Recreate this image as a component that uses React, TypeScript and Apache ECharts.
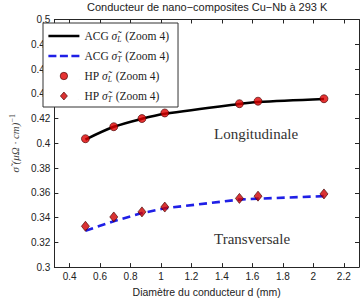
import React, { useEffect, useRef } from "react";
import * as echarts from "echarts";

const xTicks = [0.4, 0.6, 0.8, 1.0, 1.2, 1.4, 1.6, 1.8, 2.0, 2.2];
const diam = [0.504, 0.69, 0.875, 1.025, 1.515, 1.637, 2.07];
const acgL = [0.403, 0.4133, 0.4198, 0.4238, 0.4318, 0.4333, 0.4358];
const acgT = [0.3294, 0.3371, 0.3436, 0.3475, 0.3545, 0.3553, 0.3573];
const hpL = [0.4037, 0.4134, 0.42, 0.4245, 0.432, 0.434, 0.436];
const hpT = [0.333, 0.3405, 0.3446, 0.3485, 0.3555, 0.3573, 0.3591];

const pairs = (xs: number[], ys: number[]) => xs.map((x, i) => [x, ys[i]]);

const legendText: Record<string, string> = {
  acgL: "ACG {s|σ̃}{sub|L} (Zoom 4)",
  acgT: "ACG {s|σ̃}{sub|T} (Zoom 4)",
  hpL: "HP {s|σ̃}{sub|L} (Zoom 4)",
  hpT: "HP {s|σ̃}{sub|T} (Zoom 4)",
};

// legend glyphs (31 x 8 box)
const solidIcon = "path://M0,2.7 L31,2.7 L31,5.3 L0,5.3 Z M0,0 L0.01,0 L0.01,0.01 Z M0,8 L0.01,8 L0.01,7.99 Z";
const dashIcon =
  "path://M0,2.7 L8,2.7 L8,5.3 L0,5.3 Z M11.5,2.7 L19.5,2.7 L19.5,5.3 L11.5,5.3 Z M23,2.7 L31,2.7 L31,5.3 L23,5.3 Z M0,0 L0.01,0 L0.01,0.01 Z M0,8 L0.01,8 L0.01,7.99 Z";
const circleIcon =
  "path://M15.5,0.3 A3.7,3.7 0 1,1 15.5,7.7 A3.7,3.7 0 1,1 15.5,0.3 Z M0,0 L0.01,0 L0.01,0.01 Z M31,8 L30.99,8 L30.99,7.99 Z";
const diamondIcon =
  "path://M15.5,-0.3 L19.3,4 L15.5,8.3 L11.7,4 Z M0,0 L0.01,0 L0.01,0.01 Z M31,8 L30.99,8 L30.99,7.99 Z";

export default function App() {
  const ref = useRef<HTMLDivElement>(null);
  useEffect(() => {
    if (!ref.current) return;
    const chart = echarts.init(ref.current, undefined, { renderer: "svg" });
    const axisCol = "#262626";
    const sans = "Liberation Sans";
    const serif = "Liberation Serif";
    chart.setOption({
      animation: false,
      backgroundColor: "#ffffff",
      title: {
        text: "Conducteur de nano\u2212composites Cu\u2212Nb à 293 K",
        left: 87,
        top: 1,
        padding: 0,
        textStyle: { fontFamily: sans, fontSize: 11, fontWeight: "normal", color: "#222" },
      },
      grid: { left: 37.5, right: 2, top: 19.5, bottom: 26, containLabel: false },
      legend: {
        orient: "vertical",
        left: 43,
        top: 23,
        padding: [6, 9, 4, 5],
        itemGap: 6,
        itemWidth: 31,
        itemHeight: 8,
        borderColor: "#333",
        borderWidth: 1,
        backgroundColor: "#fff",
        data: [
          { name: "acgL", icon: solidIcon, itemStyle: { color: "#000", borderWidth: 0 } },
          { name: "acgT", icon: dashIcon, itemStyle: { color: "#1f1fe6", borderWidth: 0 } },
          { name: "hpL", icon: circleIcon, itemStyle: { color: "#e00000", borderColor: "#400000", borderWidth: 0.8 } },
          { name: "hpT", icon: diamondIcon, itemStyle: { color: "#d00000", borderColor: "#400000", borderWidth: 0.8 } },
        ],
        formatter: (n: string) => legendText[n],
        textStyle: {
          fontFamily: serif,
          fontSize: 11.5,
          color: "#222",
          lineHeight: 14,
          rich: {
            s: { fontFamily: serif, fontSize: 11.5, fontStyle: "italic", lineHeight: 14 },
            sub: { fontFamily: serif, fontSize: 7.5, fontStyle: "italic", lineHeight: 14, verticalAlign: "bottom", padding: [4, 1, 0, 0] },
          },
        },
      },
      xAxis: [
        {
          type: "value",
          min: 0.3,
          max: 2.3,
          position: "bottom",
          name: "Diamètre du conducteur d (mm)",
          nameLocation: "middle",
          nameGap: 15,
          nameTextStyle: { fontFamily: sans, fontSize: 10.5, color: "#222" },
          axisLine: { show: true, lineStyle: { color: axisCol, width: 1 } },
          axisTick: { show: true, inside: true, length: 4, customValues: xTicks, lineStyle: { color: axisCol } },
          axisLabel: { customValues: xTicks, margin: 4, fontFamily: sans, fontSize: 10, color: "#222", formatter: (v: number) => String(Math.round(v * 10) / 10) },
          splitLine: { show: false },
        },
        {
          type: "value",
          min: 0.3,
          max: 2.3,
          position: "top",
          axisLine: { show: true, lineStyle: { color: axisCol, width: 1 } },
          axisTick: { show: true, inside: true, length: 4, customValues: xTicks, lineStyle: { color: axisCol } },
          axisLabel: { show: false },
          splitLine: { show: false },
        },
      ],
      yAxis: [
        {
          type: "value",
          min: 0.3,
          max: 0.5,
          interval: 0.02,
          position: "left",
          name: "{a|σ̃} {b|(μΩ · cm)}{c|\u22121}",
          nameLocation: "middle",
          nameGap: 25,
          nameTextStyle: {
            fontFamily: serif,
            fontSize: 11,
            color: "#444",
            rich: {
              a: { fontFamily: serif, fontSize: 11, fontStyle: "italic" },
              b: { fontFamily: serif, fontSize: 11, fontStyle: "italic" },
              c: { fontFamily: serif, fontSize: 8, verticalAlign: "top", padding: [0, 0, 5, 0] },
            },
          },
          axisLine: { show: true, lineStyle: { color: axisCol, width: 1 } },
          axisTick: { show: true, inside: true, length: 4, lineStyle: { color: axisCol } },
          axisLabel: { margin: 4, fontFamily: sans, fontSize: 10, color: "#222", formatter: (v: number) => String(Math.round(v * 100) / 100) },
          splitLine: { show: false },
        },
        {
          type: "value",
          min: 0.3,
          max: 0.5,
          interval: 0.02,
          position: "right",
          axisLine: { show: true, lineStyle: { color: axisCol, width: 1 } },
          axisTick: { show: true, inside: true, length: 4, lineStyle: { color: axisCol } },
          axisLabel: { show: false },
          splitLine: { show: false },
        },
      ],
      series: [
        {
          name: "acgL",
          type: "line",
          data: pairs(diam, acgL),
          smooth: 0.3,
          symbol: "none",
          showSymbol: false,
          lineStyle: { color: "#000", width: 2.6 },
          itemStyle: { color: "#000" },
          z: 2,
        },
        {
          name: "acgT",
          type: "line",
          data: pairs(diam, acgT),
          symbol: "none",
          showSymbol: false,
          lineStyle: { color: "#1f1fe6", width: 2.6, type: [8, 5] },
          itemStyle: { color: "#1f1fe6" },
          z: 2,
        },
        {
          name: "hpL",
          type: "scatter",
          data: pairs(diam, hpL),
          symbol: "circle",
          symbolSize: 8,
          itemStyle: { color: "#e00000", borderColor: "#400000", borderWidth: 0.8 },
          z: 3,
        },
        {
          name: "hpT",
          type: "scatter",
          data: pairs(diam, hpT),
          symbol: "diamond",
          symbolSize: [8, 10],
          itemStyle: { color: "#d00000", borderColor: "#400000", borderWidth: 0.8 },
          z: 3,
        },
      ],
      graphic: [
        {
          type: "text",
          left: 214,
          top: 126,
          style: { text: "Longitudinale", fontFamily: serif, fontSize: 15, fill: "#333" },
        },
        {
          type: "text",
          left: 214,
          top: 231,
          style: { text: "Transversale", fontFamily: serif, fontSize: 15, fill: "#333" },
        },
      ],
    });
    return () => chart.dispose();
  }, []);
  return <div ref={ref} style={{ width: 361, height: 302, position: "absolute", left: 0, top: 0 }} />;
}
